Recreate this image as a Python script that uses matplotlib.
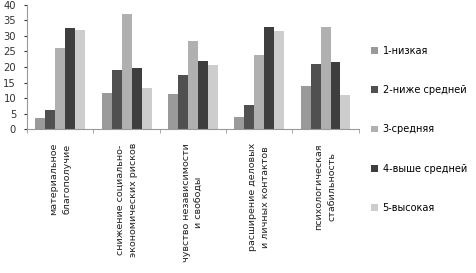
import matplotlib
matplotlib.use("Agg")
import matplotlib.pyplot as plt
import numpy as np

categories = ["материальное\nблагополучие",
              "снижение социально-\nэкономических рисков",
              "чувство независимости\nи свободы",
              "расширение деловых\nи личных контактов",
              "психологическая\nстабильность"]
series_names = ["1-низкая", "2-ниже средней", "3-средняя", "4-выше средней", "5-высокая"]
s1 = [3.5, 11.5, 11.3, 4.0, 14.0]
s2 = [6.0, 19.0, 17.3, 7.8, 21.0]
s3 = [26.0, 37.0, 28.4, 24.0, 33.0]
s4 = [32.5, 19.7, 22.1, 33.0, 21.5]
s5 = [31.8, 13.2, 20.8, 31.5, 11.0]
series = [s1, s2, s3, s4, s5]
colors = ["#9a9a9a", "#505050", "#b0b0b0", "#3e3e3e", "#cdcdcd"]

fig = plt.figure(figsize=(4.77, 2.73), dpi=100)
ax = fig.add_axes([0.057, 0.527, 0.695, 0.455])
x = np.arange(len(categories))
w = 0.15
for i, (vals, name, c) in enumerate(zip(series, series_names, colors)):
    ax.bar(x + (i - 2) * w, vals, width=w, color=c, label=name)

ax.set_xlim(-0.5, len(categories) - 0.5)
ax.set_ylim(0, 40)
ax.set_yticks(range(0, 41, 5))
ax.tick_params(axis="y", labelsize=7.2, length=2, pad=6, colors="#333333")
ax.set_xticks(x)
ax.set_xticklabels(categories, rotation=90, fontsize=6.8, va="top", ha="center",
                   multialignment="center", color="#222222", linespacing=1.6)
ax.tick_params(axis="x", length=0, pad=10)
ax.set_xticks(np.arange(-0.5, len(categories)), minor=True)
ax.tick_params(axis="x", which="minor", length=3, color="#999999")
for sp in ["top", "right"]:
    ax.spines[sp].set_visible(False)
ax.spines["left"].set_color("#999999")
ax.spines["bottom"].set_color("#999999")

leg = ax.legend(loc="upper left", bbox_to_anchor=(1.025, 0.7), frameon=False,
                fontsize=7.0, labelspacing=3.0, handlelength=0.7, handleheight=0.7,
                handletextpad=0.5, borderaxespad=0)
fig.savefig("out.png", dpi=100)
